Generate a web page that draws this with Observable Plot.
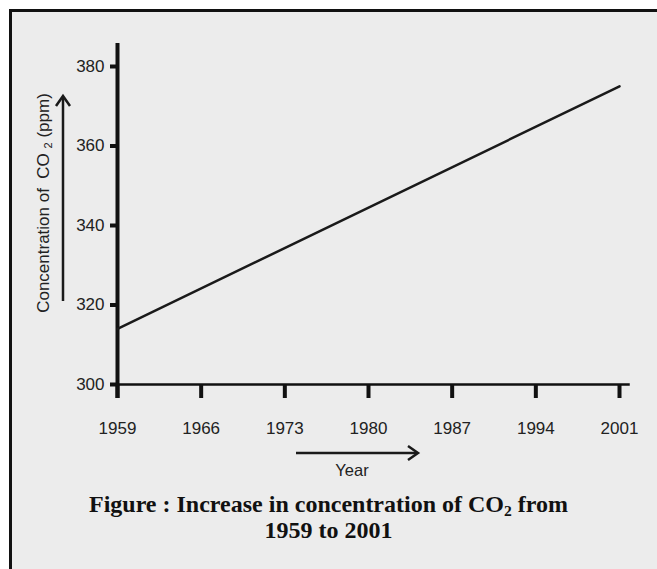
<!DOCTYPE html>
<html>
<head>
<meta charset="utf-8">
<script src="https://cdn.jsdelivr.net/npm/d3@7"></script>
<script src="https://cdn.jsdelivr.net/npm/@observablehq/plot@0.6"></script>
<style>
  html, body { margin: 0; padding: 0; background: #ffffff; }
  #wrap { position: relative; width: 657px; height: 569px; overflow: hidden; font-family: "Liberation Sans", Arial, sans-serif; }
  #panel { position: absolute; left: 9px; top: 9px; width: 700px; height: 600px; background: #ececec; border-left: 3px solid #111; border-top: 3px solid #111; }
  #chart { position: absolute; left: 0; top: 0; }
  #overlay { position: absolute; left: 0; top: 0; }
  #ylabel { position: absolute; left: 44px; top: 203px; transform: translate(-50%, -50%) rotate(-90deg); white-space: nowrap; font-size: 17px; color: #222; }
  #xlabel { position: absolute; left: 352px; top: 470px; transform: translate(-50%, -50%); font-size: 16.5px; color: #222; }
  #title { position: absolute; left: 0; width: 657px; top: 491px; text-align: center; font-family: "Liberation Serif", "Times New Roman", serif; font-weight: bold; font-size: 24px; line-height: 26px; color: #111; }
  sub { font-size: 0.65em; vertical-align: -0.25em; line-height: 0; }
</style>
</head>
<body>
<div id="wrap">
  <div id="panel"></div>
  <div id="chart"></div>
  <svg id="overlay" width="657" height="569">
    <g stroke="#1a1a1a" stroke-width="2.5" fill="none" stroke-linecap="butt">
      <line x1="63" y1="301" x2="63" y2="97"></line>
      <polyline points="56,106 63,96 70,106"></polyline>
      <line x1="296" y1="453" x2="417" y2="453"></line>
      <polyline points="408,446 418,453 408,460"></polyline>
    </g>
  </svg>
  <div id="ylabel">Concentration of&nbsp; CO <sub>2</sub> (ppm)</div>
  <div id="xlabel">Year</div>
  <div id="title">Figure : Increase in concentration of CO<sub>2</sub> from<br>1959 to 2001</div>
</div>
<script>
// Data
const years = [1959, 2001];
const co2 = [314, 375];
const xTicks = [1959, 1966, 1973, 1980, 1987, 1994, 2001];
const yTicks = [300, 320, 340, 360, 380];

const data = years.map((y, i) => ({year: y, value: co2[i]}));

const chart = Plot.plot({
  width: 657,
  height: 440,
  marginLeft: 117,
  marginRight: 38,
  marginTop: 66,
  marginBottom: 56,
  style: {background: "transparent", fontFamily: "'Liberation Sans', Arial, sans-serif", fontSize: "17px", color: "#222"},
  x: {domain: [1959, 2001], label: null},
  y: {domain: [300, 380], label: null},
  marks: [
    Plot.ruleY([300], {x1: 1959, x2: 2001.9, stroke: "#111", strokeWidth: 2.5}),
    Plot.ruleX([1959], {y1: 296.5, y2: 385.8, stroke: "#111", strokeWidth: 4}),
    Plot.axisX(xTicks, {tickSize: 14, tickPadding: 23, strokeWidth: 4, stroke: "#111", fill: "#222", fontSize: 17, tickFormat: d => String(d), label: null}),
    Plot.axisY(yTicks, {tickSize: 7, tickPadding: 6, strokeWidth: 4, stroke: "#111", fill: "#222", fontSize: 17, label: null}),
    Plot.line(data, {x: "year", y: "value", stroke: "#1a1a1a", strokeWidth: 2.5})
  ]
});
document.getElementById("chart").appendChild(chart);
</script>
</body>
</html>
